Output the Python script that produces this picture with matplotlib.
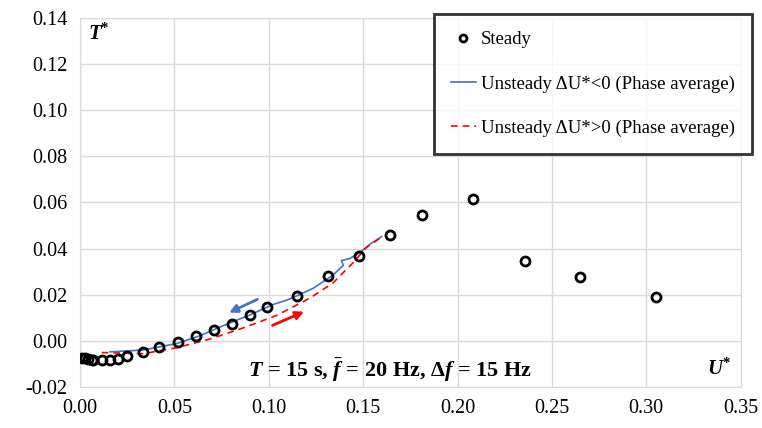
import matplotlib.pyplot as plt
import numpy as np

plt.rcParams['font.family'] = ['Liberation Serif', 'DejaVu Serif']
plt.rcParams['mathtext.fontset'] = 'custom'
plt.rcParams['mathtext.rm'] = 'Liberation Serif:bold'
plt.rcParams['mathtext.it'] = 'Liberation Serif:italic:bold'
plt.rcParams['mathtext.bf'] = 'Liberation Serif:bold'

# steady points
steady_u = [0.0009, 0.0026, 0.0044, 0.0062, 0.007, 0.0115, 0.0159, 0.0203, 0.0247,
            0.0335, 0.042, 0.052, 0.0613, 0.071, 0.0803, 0.090, 0.0989, 0.115,
            0.1315, 0.148, 0.164, 0.181, 0.2083, 0.236, 0.2649, 0.305]
steady_t = [-0.0075, -0.0075, -0.008, -0.0082, -0.0085, -0.0082, -0.0082, -0.008, -0.0065,
            -0.0049, -0.0029, -0.0007, 0.0019, 0.0045, 0.0074, 0.0113, 0.0146, 0.0195,
            0.0279, 0.0366, 0.0457, 0.0547, 0.0615, 0.0348, 0.0275, 0.0188]

# unsteady, decreasing U* (phase average)
dec_u = [0.0159, 0.0335, 0.0512, 0.0636, 0.0777, 0.090, 0.1024, 0.108, 0.113, 0.1236,
         0.1342, 0.1395, 0.1385, 0.143, 0.1483, 0.1536, 0.1598]
dec_t = [-0.0048, -0.0040, -0.0012, 0.0022, 0.0072, 0.0112, 0.0158, 0.0172, 0.0188, 0.0228,
         0.0286, 0.0328, 0.0348, 0.0357, 0.0383, 0.0419, 0.0452]

# unsteady, increasing U* (phase average)
inc_u = [0.0115, 0.0335, 0.0512, 0.069, 0.0865, 0.1041, 0.1218, 0.1342, 0.1448,
         0.1518, 0.1598]
inc_t = [-0.0051, -0.0056, -0.0030, 0.0008, 0.0056, 0.0110, 0.0185, 0.0252, 0.0340,
         0.0405, 0.0450]

fig = plt.figure(figsize=(7.62, 4.28), dpi=100)
ax = fig.add_axes([0.105, 0.096, 0.867, 0.862])

ax.plot(dec_u, dec_t, color='#4472c4', lw=1.2, label='Unsteady ΔU*<0 (Phase average)', zorder=2)
ax.plot(inc_u, inc_t, color='#ff0000', lw=1.2, ls=(0, (4, 3)), label='Unsteady ΔU*>0 (Phase average)', zorder=2)
ax.plot(steady_u, steady_t, 'o', mfc='none', mec='black', mew=2, ms=6.5, label='Steady', zorder=3)

# direction arrows
ax.annotate('', xy=(0.0777, 0.0117), xytext=(0.0953, 0.0185),
            arrowprops=dict(arrowstyle='-|>', color='#4472c4', lw=2, mutation_scale=12))
ax.annotate('', xy=(0.12, 0.0131), xytext=(0.1006, 0.0062),
            arrowprops=dict(arrowstyle='-|>', color='#ff0000', lw=2, mutation_scale=12))

ax.set_xlim(0, 0.35)
ax.set_ylim(-0.02, 0.14)
ax.set_xticks(np.arange(0, 0.351, 0.05))
ax.set_yticks(np.arange(-0.02, 0.141, 0.02))
ax.set_xticklabels(['%.2f' % v for v in np.arange(0, 0.351, 0.05)])
ax.set_yticklabels(['%.2f' % v for v in np.arange(-0.02, 0.141, 0.02)])
ax.tick_params(length=0, labelsize=14.5, pad=9)
ax.grid(color='#d9d9d9', lw=1)
ax.set_axisbelow(True)
for s in ax.spines.values():
    s.set_color('#d9d9d9')

ax.text(0.012, 0.985, r'$T$$^{*}$', transform=ax.transAxes, fontsize=15, va='top', ha='left')
ax.text(0.985, 0.02, r'$U$$^{*}$', transform=ax.transAxes, fontsize=15, va='bottom', ha='right')
ax.text(0.089, -0.0125, r'$T$ = 15 s, $\bar{f}$ = 20 Hz, $\Delta f$ = 15 Hz',
        fontsize=16, fontweight='bold', va='center', ha='left')

leg = ax.legend(handles=[ax.lines[2], ax.lines[0], ax.lines[1]], loc='upper right',
                bbox_to_anchor=(0.987, 0.967), bbox_transform=fig.transFigure,
                fontsize=13.5, frameon=True, fancybox=False, labelspacing=1.45,
                handlelength=1.3, handletextpad=0.3, borderpad=0.9, borderaxespad=0)
leg.get_frame().set_edgecolor('black')
leg.get_frame().set_linewidth(2)
leg.legend_handles[0].set_markersize(5)

plt.savefig('out.png', dpi=100)
